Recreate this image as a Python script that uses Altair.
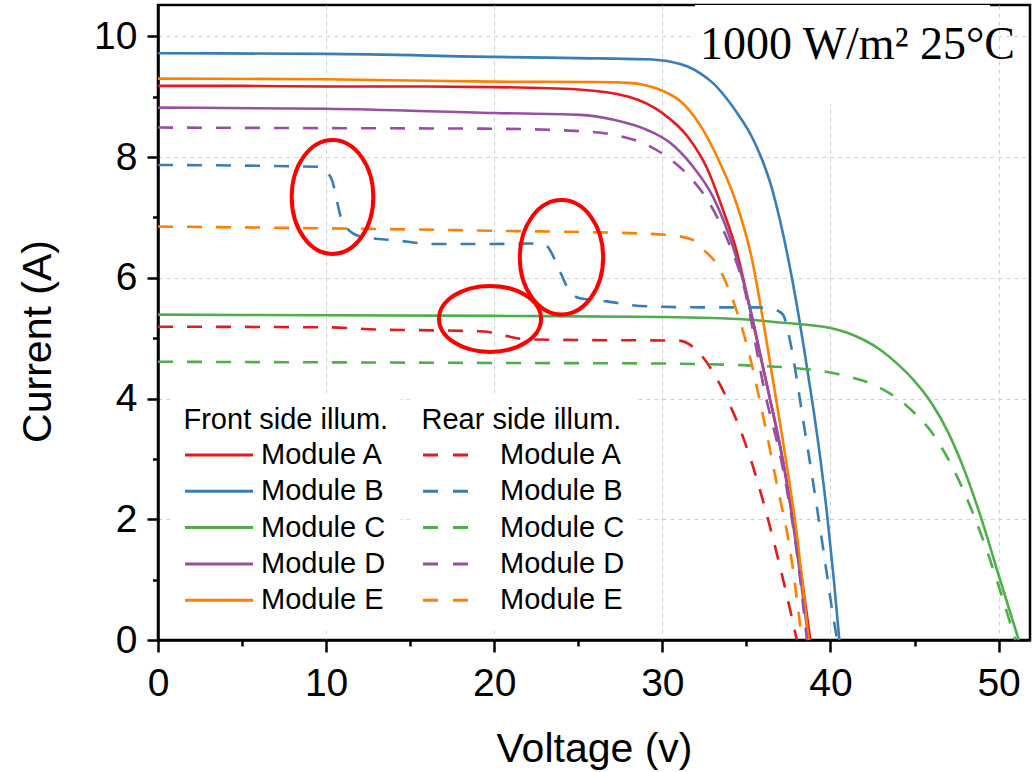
import altair as alt
import pandas as pd

# ---------------- data ----------------
modules = ["Module A", "Module B", "Module C", "Module D", "Module E"]
colors = ["#e41a1c", "#377eb8", "#4daf4a", "#984ea3", "#ff7f00"]

# Front side illumination (solid)
front_A_v = [0, 5, 10, 15, 20, 25, 28, 30, 31.5, 32.7, 33.6, 34.4, 35.2, 36.2, 37.2, 38.0, 38.8]
front_A_i = [9.18, 9.18, 9.17, 9.17, 9.16, 9.12, 9.0, 8.73, 8.34, 7.79, 7.13, 6.46, 5.5, 4.25, 2.93, 1.6, 0]

front_B_v = [0, 10, 20, 25, 29, 30.5, 31.5, 32.3, 33.0, 33.8, 34.6, 35.3, 35.9, 36.5, 37.0,
             37.5, 38.0, 38.5, 39.0, 39.4, 39.8, 40.2, 40.53]
front_B_i = [9.72, 9.71, 9.66, 9.64, 9.62, 9.58, 9.50, 9.38, 9.23, 8.98, 8.67, 8.35, 7.98, 7.50, 6.95,
             6.30, 5.55, 4.70, 3.80, 3.00, 2.08, 1.00, 0]

front_C_v = [0, 10, 20, 30, 35, 37, 40, 41, 42, 43, 44, 45, 46, 47, 48, 49, 50, 50.6, 51.2]
front_C_i = [5.39, 5.38, 5.37, 5.35, 5.31, 5.26, 5.17, 5.09, 4.97, 4.80, 4.57, 4.29, 3.93, 3.44,
             2.79, 1.99, 1.08, 0.54, 0]

front_D_v = [0, 10, 20, 25.1, 27.1, 29.1, 30.5, 31.8, 33.0, 34.0, 35.0, 36.2, 37.2, 38.0, 38.7]
front_D_i = [8.82, 8.80, 8.73, 8.70, 8.62, 8.45, 8.23, 7.85, 7.35, 6.68, 5.75, 4.25, 2.93, 1.49, 0]

front_E_v = [0, 10, 20, 26, 28, 29, 30, 31.1, 32.2, 33.4, 34.4, 35.3, 36.2, 37.2, 38.0, 38.7]
front_E_i = [9.30, 9.29, 9.25, 9.245, 9.23, 9.19, 9.10, 8.92, 8.55, 7.92, 7.24, 6.35, 4.95, 3.25, 1.75, 0]

# Rear side illumination (dashed)
rear_A_v = [0, 10, 13.4, 16.4, 19.4, 20.5, 22, 25, 31.0, 31.8, 33.6, 35.2, 36.4, 37.6, 38.0]
rear_A_i = [5.19, 5.18, 5.14, 5.13, 5.11, 5.05, 4.98, 4.97, 4.96, 4.86, 4.14, 3.04, 1.88, 0.5, 0]

rear_B_v = [0, 9.6, 10.3, 11.0, 12.0, 14.2, 16.4, 19.6, 22.4, 23.1, 23.7, 24.0, 24.5, 25.1,
            26.7, 28.1, 30.0, 33.0, 35.6, 36.4, 36.9, 37.2, 37.6, 38.4, 39.0, 39.6, 40.1, 40.4]
rear_B_i = [7.87, 7.84, 7.65, 6.91, 6.69, 6.62, 6.56, 6.56, 6.57, 6.53, 6.24, 6.05, 5.77, 5.66,
            5.61, 5.55, 5.52, 5.51, 5.51, 5.49, 5.45, 5.38, 4.95, 3.60, 2.55, 1.45, 0.5, 0]

rear_C_v = [0, 10, 20, 30, 35, 37.2, 40.2, 41, 42, 43, 44, 45, 46, 47, 48, 49, 50, 51]
rear_C_i = [4.61, 4.60, 4.59, 4.58, 4.55, 4.52, 4.42, 4.37, 4.29, 4.17, 4.0, 3.76, 3.45, 3.0,
            2.42, 1.72, 0.9, 0]

rear_D_v = [0, 10, 20, 25.1, 27.1, 29.1, 30.5, 31.6, 32.8, 33.8, 34.8, 36.1, 37.2, 38.0, 38.6]
rear_D_i = [8.49, 8.48, 8.47, 8.43, 8.37, 8.20, 7.96, 7.68, 7.24, 6.68, 5.91, 4.1, 2.8, 1.45, 0]

rear_E_v = [0, 10, 15.4, 20, 29.1, 30.7, 31.8, 32.3, 33.2, 34.4, 35.2, 36.0, 36.8, 37.6, 38.3]
rear_E_i = [6.85, 6.82, 6.80, 6.78, 6.73, 6.70, 6.63, 6.50, 6.24, 5.47, 4.7, 3.70, 2.60, 1.49, 0]

# Highlighted regions (centres of the red ellipses, in data units)
ellipse_v = [10.38, 24.0, 19.75]
ellipse_i = [7.34, 6.34, 5.32]

x_ticks = [0, 10, 20, 30, 40, 50]
x_minor = [5, 15, 25, 35, 45]
y_ticks = [0, 2, 4, 6, 8, 10]
y_minor = [1, 3, 5, 7, 9]

condition_text = "1000 W/m² 25°C"

# ---------------- build table ----------------
series = {
    ("Front", "Module A"): (front_A_v, front_A_i),
    ("Front", "Module B"): (front_B_v, front_B_i),
    ("Front", "Module C"): (front_C_v, front_C_i),
    ("Front", "Module D"): (front_D_v, front_D_i),
    ("Front", "Module E"): (front_E_v, front_E_i),
    ("Rear", "Module A"): (rear_A_v, rear_A_i),
    ("Rear", "Module B"): (rear_B_v, rear_B_i),
    ("Rear", "Module C"): (rear_C_v, rear_C_i),
    ("Rear", "Module D"): (rear_D_v, rear_D_i),
    ("Rear", "Module E"): (rear_E_v, rear_E_i),
}
rows = []
for (side, mod), (vs, cs) in series.items():
    for v, c in zip(vs, cs):
        rows.append({"side": side, "module": mod, "V": v, "I": c})
df = pd.DataFrame(rows)

ell_df = pd.DataFrame({"k": [0, 1, 2], "v": ellipse_v, "i": ellipse_i})

FONT = "Liberation Sans"
x_scale = alt.Scale(domain=[0, 51.87], nice=False, zero=False)
y_scale = alt.Scale(domain=[0, 10.52], nice=False, zero=False)

common_axis = dict(tickColor="black", tickWidth=2.5, domainColor="black", domainWidth=2.5,
                   labelFont=FONT, labelColor="black", titleFont=FONT, titleColor="black",
                   titleFontWeight="normal", labelFlush=False, labelOverlap=False)

x_major = alt.Axis(orient="bottom", values=x_ticks, title="Voltage (v)", grid=True,
                   gridDash=[4, 4], gridColor="#d0d0d0", gridWidth=1, tickSize=12,
                   labelFontSize=39, labelBaseline="alphabetic", labelPadding=43,
                   titleFontSize=41, titleY=121, titleBaseline="alphabetic", **common_axis)
y_major = alt.Axis(orient="left", values=y_ticks, title="Current (A)", grid=True,
                   gridDash=[4, 4], gridColor="#d0d0d0", gridWidth=1, tickSize=11,
                   labelFontSize=39, labelBaseline="middle", labelPadding=10,
                   titleFontSize=41, titleAngle=270, titleX=-108, titleY=336,
                   titleBaseline="alphabetic", titleAlign="center", **common_axis)
x_minor_axis = alt.Axis(orient="bottom", values=x_minor, title=None, labels=False, grid=False,
                        domain=False, tickSize=6, tickColor="black", tickWidth=2.5)
y_minor_axis = alt.Axis(orient="left", values=y_minor, title=None, labels=False, grid=False,
                        domain=False, tickSize=5.5, tickColor="black", tickWidth=2.5)

legend_common = dict(orient="none", direction="vertical", symbolType="stroke",
                     symbolStrokeWidth=3, clipHeight=36, rowPadding=0.3,
                     labelFont=FONT, labelFontSize=29, labelColor="black", labelLimit=400,
                     titleFont=FONT, titleFontSize=29, titleFontWeight="normal",
                     titleColor="black", titlePadding=2, titleLimit=500,
                     padding=12, fillColor="white")

front_legend = alt.Legend(title="Front side illum.", legendX=13.5, legendY=389,
                          symbolSize=4624, labelOffset=6.5, **legend_common)
rear_legend = alt.Legend(title="Rear side illum.", legendX=251.5, legendY=389,
                         symbolSize=2025, symbolDash=[15, 15], labelOffset=30.5,
                         **legend_common)

# white box behind the condition text
title_box = alt.Chart(pd.DataFrame({"a": [0]})).mark_rect(color="white").encode(
    x=alt.value(537), x2=alt.value(832), y=alt.value(0), y2=alt.value(99)
)

front = alt.Chart(df).transform_filter(alt.datum.side == "Front").mark_line(
    strokeWidth=2.6, interpolate="monotone"
).encode(
    x=alt.X("V:Q", scale=x_scale, axis=x_major),
    y=alt.Y("I:Q", scale=y_scale, axis=y_major),
    color=alt.Color("module:N", scale=alt.Scale(domain=modules, range=colors), legend=front_legend),
    order=alt.Order("V:Q"),
)

rear = alt.Chart(df).transform_filter(alt.datum.side == "Rear").mark_line(
    strokeWidth=2.6, interpolate="monotone", strokeDash=[15, 14]
).encode(
    x=alt.X("V:Q", scale=x_scale, axis=x_minor_axis),
    y=alt.Y("I:Q", scale=y_scale, axis=y_minor_axis),
    color=alt.Color("module:N", scale=alt.Scale(domain=modules, range=colors), legend=rear_legend),
    order=alt.Order("V:Q"),
)

ellipse_shapes = [
    ("M -0.716 0 A 0.716 1 0 1 0 0.716 0 A 0.716 1 0 1 0 -0.716 0 Z", 12996),
    ("M -0.729 0 A 0.729 1 0 1 0 0.729 0 A 0.729 1 0 1 0 -0.729 0 Z", 13087),
    ("M -1 0 A 1 0.647 0 1 0 1 0 A 1 0.647 0 1 0 -1 0 Z", 10404),
]
ellipse_layers = []
for k, (path, sz) in enumerate(ellipse_shapes):
    ellipse_layers.append(
        alt.Chart(ell_df).transform_filter(alt.datum.k == k).mark_point(
            shape=path, size=sz, filled=False, color="#ff0000", strokeWidth=4, opacity=1
        ).encode(
            x=alt.X("v:Q", scale=x_scale, axis=None),
            y=alt.Y("i:Q", scale=y_scale, axis=None),
        )
    )

cond_text = alt.Chart(pd.DataFrame({"t": [condition_text]})).mark_text(
    font="Liberation Serif", fontSize=46, align="right", baseline="alphabetic", color="black"
).encode(x=alt.value(857), y=alt.value(54), text="t:N")

chart = alt.layer(title_box, front, rear, *ellipse_layers, cond_text).resolve_scale(
    color="independent"
).resolve_axis(
    x="independent", y="independent"
).properties(
    width=872, height=635,
    padding={"left": 158, "top": 5, "right": 5, "bottom": 132},
    autosize=alt.AutoSizeParams(type="none"),
    background="white",
).configure_view(stroke="black", strokeWidth=2.5)

chart.save("out.html", embed_options={"renderer": "svg", "actions": False})
